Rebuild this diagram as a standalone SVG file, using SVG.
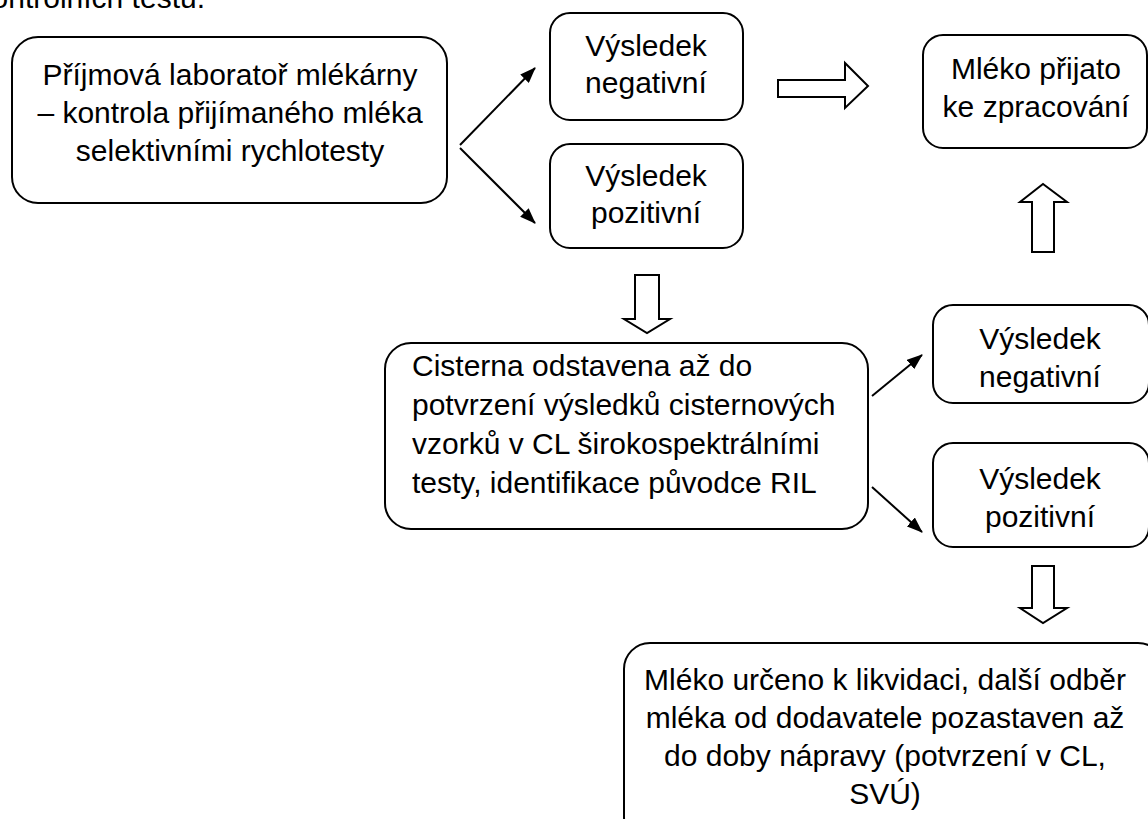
<svg xmlns="http://www.w3.org/2000/svg" width="1148" height="819" viewBox="0 0 1148 819">
<style>
text{font-family:"Liberation Sans",Arial,sans-serif;font-size:30px;fill:#000}
.c{text-anchor:middle}
.box{fill:#fff;stroke:#000;stroke-width:2}
.blk{fill:#fff;stroke:#000;stroke-width:2;stroke-linejoin:miter}
.ln{stroke:#000;stroke-width:2;fill:none}
</style>
<defs>
<marker id="ah" viewBox="0 0 16 12" refX="15" refY="6" markerWidth="16" markerHeight="12" markerUnits="userSpaceOnUse" orient="auto">
<path d="M0,0 L16,6 L0,12 z" fill="#000"/>
</marker>
</defs>
<rect width="1148" height="819" fill="#fff"/>
<text x="205" y="8" text-anchor="end">kontrolních testů.</text>

<g id="nodeA">
<rect class="box" x="12" y="37" width="435" height="166" rx="26"/>
<text class="c" x="230" y="85">Příjmová laboratoř mlékárny</text>
<text class="c" x="230" y="123">– kontrola přijímaného mléka</text>
<text class="c" x="230" y="161">selektivními rychlotesty</text>
</g>
<g id="nodeB1">
<rect class="box" x="550" y="13" width="193" height="107" rx="20"/>
<text class="c" x="646" y="56">Výsledek</text>
<text class="c" x="646" y="93">negativní</text>
</g>
<g id="nodeB2">
<rect class="box" x="550" y="144" width="193" height="104" rx="20"/>
<text class="c" x="646" y="186">Výsledek</text>
<text class="c" x="646" y="223">pozitivní</text>
</g>
<g id="nodeC">
<rect class="box" x="923" y="35" width="224" height="113" rx="20"/>
<text class="c" x="1036" y="79">Mléko přijato</text>
<text class="c" x="1036" y="117">ke zpracování</text>
</g>
<g id="nodeD">
<rect class="box" x="385" y="343" width="483" height="186" rx="26"/>
<text x="412" y="376">Cisterna odstavena až do</text>
<text x="412" y="415">potvrzení výsledků cisternových</text>
<text x="412" y="454">vzorků v CL širokospektrálními</text>
<text x="412" y="493">testy, identifikace původce RIL</text>
</g>
<g id="nodeE1">
<rect class="box" x="933" y="305" width="216" height="98" rx="20"/>
<text class="c" x="1040" y="349">Výsledek</text>
<text class="c" x="1040" y="387">negativní</text>
</g>
<g id="nodeE2">
<rect class="box" x="933" y="443" width="216" height="104" rx="20"/>
<text class="c" x="1040" y="489">Výsledek</text>
<text class="c" x="1040" y="527">pozitivní</text>
</g>
<g id="nodeF">
<rect class="box" x="624" y="643" width="540" height="200" rx="26"/>
<text class="c" x="885" y="690">Mléko určeno k likvidaci, další odběr</text>
<text class="c" x="885" y="728">mléka od dodavatele pozastaven až</text>
<text class="c" x="885" y="766">do doby nápravy (potvrzení v CL,</text>
<text class="c" x="885" y="804">SVÚ)</text>
</g>

<g id="connectors">
<line class="ln" x1="460" y1="145" x2="535" y2="68" marker-end="url(#ah)"/>
<line class="ln" x1="460" y1="148" x2="535" y2="223" marker-end="url(#ah)"/>
<line class="ln" x1="872" y1="396" x2="922" y2="355" marker-end="url(#ah)"/>
<line class="ln" x1="872" y1="487" x2="922" y2="532" marker-end="url(#ah)"/>
<path class="blk" d="M778,80 L845,80 L845,63 L868,86 L845,108 L845,97 L778,97 Z"/>
<path class="blk" d="M1032,252 L1032,202 L1020,202 L1043,184 L1067,202 L1054,202 L1054,252 Z"/>
<path class="blk" d="M635,275 L659,275 L659,319 L670,319 L647,333 L624,319 L635,319 Z"/>
<path class="blk" d="M1032,566 L1054,566 L1054,608 L1067,608 L1043,623 L1020,608 L1032,608 Z"/>
</g>
</svg>
